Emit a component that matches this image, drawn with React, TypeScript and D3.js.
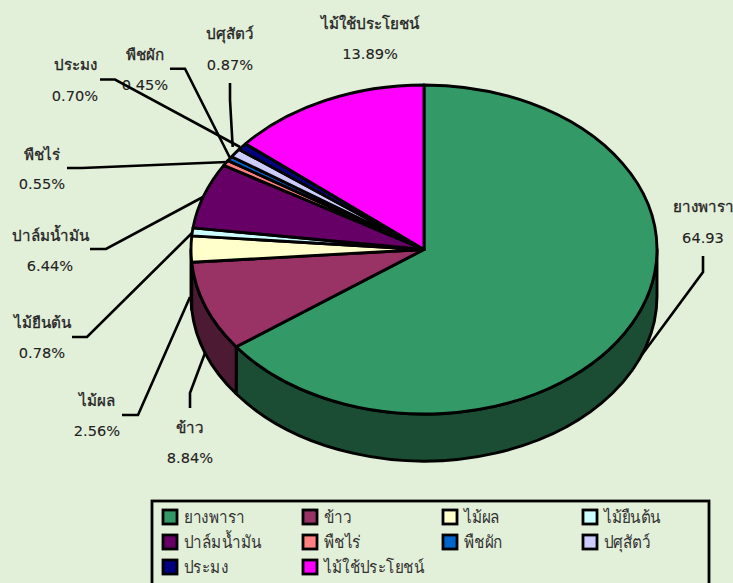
import React from "react";
import * as d3 from "d3";

const categories = ["ยางพารา", "ข้าว", "ไม้ผล", "ไม้ยืนต้น", "ปาล์มน้ำมัน", "พืชไร่", "พืชผัก", "ปศุสัตว์", "ประมง", "ไม้ใช้ประโยชน์"];
const values = [64.93, 8.84, 2.56, 0.78, 6.44, 0.55, 0.45, 0.87, 0.7, 13.89];
const valueLabels = ["64.93", "8.84%", "2.56%", "0.78%", "6.44%", "0.55%", "0.45%", "0.87%", "0.70%", "13.89%"];
const colors = ["#339966", "#993366", "#FFFFCC", "#CCFFFF", "#660066", "#FF8080", "#0066CC", "#CCCCFF", "#000080", "#FF00FF"];
const sideColors = ["#1a4d33", "#4d1a33", "#80806a"];

// label layout: [centre x, name y, value y]
const labelPos = [
  [703, 207, 238], [190, 428, 458], [97, 401, 431], [42, 323, 353], [50, 236, 266],
  [42, 155, 184], [145, 55, 85], [230, 34, 65], [75, 65, 96], [370, 24, 54],
];
const leaders = [
  [[703, 256], [703, 272], [641, 356]],
  [[190, 408], [190, 393], [205, 353]],
  [[122, 415], [138, 415], [190, 297]],
  [[72, 337], [87, 337], [192, 233]],
  [[90, 249], [106, 249], [203, 197]],
  [[67, 168], [82, 168], [227, 162]],
  [[170, 68.7], [185, 68.7], [230, 158]],
  [[230, 83], [230, 100], [232.7, 147]],
  [[100, 79.5], [115, 79.5], [240, 147]],
];

const cx = 424, cy = 249.5, rx = 233, ry = 164.5, depth = 47;
const px = (a: number) => cx + rx * Math.sin(a);
const py = (a: number) => cy - ry * Math.cos(a);
const LABEL_FONT = "'DejaVu Sans', 'Noto Sans', sans-serif";

function wedge(a0: number, a1: number) {
  const large = a1 - a0 > Math.PI ? 1 : 0;
  return `M${cx},${cy}L${px(a0)},${py(a0)}A${rx},${ry} 0 ${large} 1 ${px(a1)},${py(a1)}Z`;
}
function wall(a0: number, a1: number) {
  const s = Math.max(a0, Math.PI / 2), e = Math.min(a1, (3 * Math.PI) / 2);
  if (e <= s) return null;
  return `M${px(s)},${py(s)}A${rx},${ry} 0 0 1 ${px(e)},${py(e)}L${px(e)},${py(e) + depth}A${rx},${ry} 0 0 0 ${px(s)},${py(s) + depth}Z`;
}

const arcs = d3.pie<number>().sort(null).value((d) => d)(values);
const legendX = d3.scalePoint<number>().domain([0, 1, 2, 3]).range([162, 582]);
const legendY = d3.scalePoint<number>().domain([0, 1, 2]).range([517, 567]);
const line = d3.line();

export default function App() {
  return (
    <svg width={733} height={583} style={{ position: "fixed", left: 0, top: 0, display: "block", background: "#E2EFD9" }}>
      {arcs.map((a, i) => {
        const d = wall(a.startAngle, a.endAngle);
        return d ? <path key={i} d={d} fill={sideColors[i] ?? "#333"} stroke="#000" strokeWidth={2.9} strokeLinejoin="round" /> : null;
      })}
      {arcs.map((a, i) => (
        <path key={i} d={wedge(a.startAngle, a.endAngle)} fill={colors[i]} stroke="#000" strokeWidth={2.9} strokeLinejoin="round" />
      ))}
      {categories.map((c, i) => {
        const [x, y0, y1] = labelPos[i];
        return (
          <g key={c} textAnchor="middle" fontFamily={LABEL_FONT} fill="#222">
            <text x={x} y={y0} dy="0.35em" fontSize={15.2} stroke="#222" strokeWidth={0.3}>{c}</text>
            <text x={x} y={y1} dy="0.35em" fontSize={14.6} stroke="#222" strokeWidth={0.1}>{valueLabels[i]}</text>
          </g>
        );
      })}
      {leaders.map((l, i) => (
        <path key={i} d={line(l as [number, number][]) ?? ""} fill="none" stroke="#000" strokeWidth={2.6} />
      ))}
      <rect x={152} y={501} width={557} height={110} fill="#E2EFD9" stroke="#000" strokeWidth={2.8} />
      {categories.map((c, i) => {
        const x = legendX(i % 4)!, y = legendY(Math.floor(i / 4))!;
        return (
          <g key={c}>
            <rect x={x + 1} y={y - 7} width={14} height={14} fill={colors[i]} stroke="#000" strokeWidth={2.8} />
            <text transform={`translate(${x + 22},${y}) scale(0.9,1)`} dy="0.35em" fontFamily={LABEL_FONT} fontSize={17} fill="#333">{c}</text>
          </g>
        );
      })}
    </svg>
  );
}
